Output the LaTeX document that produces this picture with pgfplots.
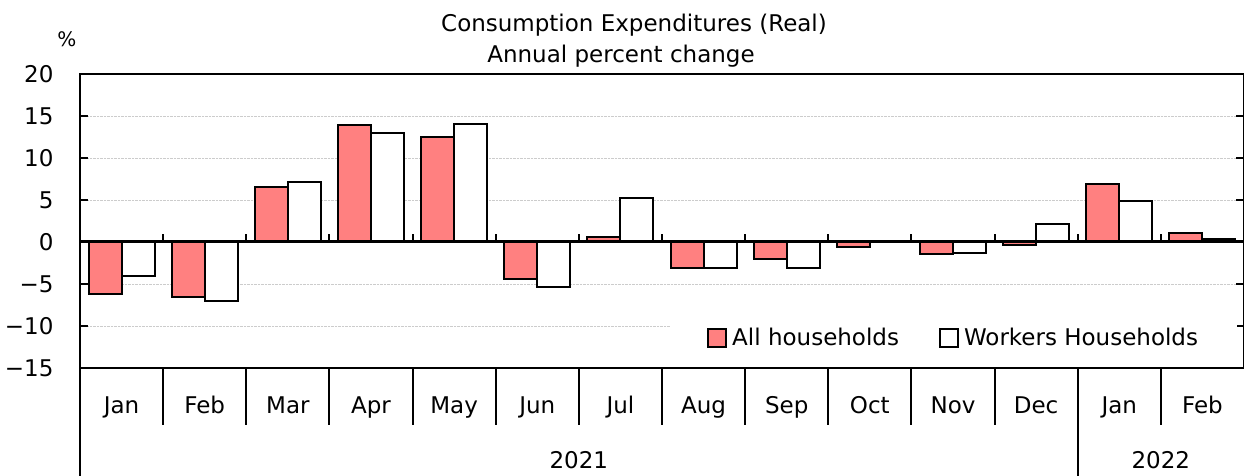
\documentclass[border=0pt]{standalone}
\usepackage{fontspec}
\setmainfont{DejaVu Sans}
\usepackage{pgfplots}
\pgfplotsset{compat=1.18}
\definecolor{barred}{RGB}{255,128,128}
\newcommand{\f}{\fontsize{23}{27}\selectfont}
\begin{document}
\begin{tikzpicture}
\useasboundingbox (0,0) rectangle (1244pt,476pt);
\begin{axis}[
  at={(80pt,108pt)}, anchor=south west,
  scale only axis, width=1164pt, height=294pt,
  xmin=-0.5, xmax=13.5, ymin=-15, ymax=20,
  ytick={-15,-10,...,20},
  yticklabels={−15,−10,−5,0,5,10,15,20},
  xtick={0,...,13},
  xticklabels={Jan,Feb,Mar,Apr,May,Jun,Jul,Aug,Sep,Oct,Nov,Dec,Jan,Feb},
  tick align=inside,
  major tick length=8pt,
  xtick style={draw=none},
  ytick style={line width=1.5pt, black},
  ymajorgrids, grid style={densely dotted, black!20, line width=0.8pt},
  axis line style={line width=2.5pt},
  ticklabel style={font=\f},
  yticklabel style={anchor=east, xshift=-23pt},
  xticklabel style={anchor=base, yshift=-38pt},
  ybar=0pt, bar width=33pt,
  clip=false,
  legend columns=2,
  legend style={at={(0.5069,0.102)}, anchor=west, draw=none, fill=white,
    inner xsep=37pt, inner ysep=6pt, font=\f,
    /tikz/every even column/.append style={column sep=38pt},
    /tikz/every odd column/.append style={column sep=3pt}},
  every axis plot post/.append style={legend image code/.code={\draw[##1, line width=2pt] (0pt,-9pt) rectangle (18pt,9pt);}},
]
\addplot[fill=barred, draw=black, line width=2pt] coordinates {
(0,-6.2) (1,-6.6) (2,6.5) (3,13.9) (4,12.5) (5,-4.4) (6,0.6) (7,-3.1) (8,-2.0) (9,-0.6) (10,-1.4) (11,-0.3) (12,6.9) (13,1.1)};
\addplot[fill=white, draw=black, line width=2pt] coordinates {
(0,-4.1) (1,-7.0) (2,7.1) (3,13.0) (4,14.1) (5,-5.3) (6,5.2) (7,-3.1) (8,-3.1) (9,0.0) (10,-1.3) (11,2.2) (12,4.9) (13,0.4)};
\legend{All households, Workers Households}
\draw[line width=3pt] (axis cs:-0.5,0) -- (axis cs:13.5,0);
\pgfplotsinvokeforeach{0.5,1.5,...,12.5}{
  \draw[line width=2pt] (axis cs:#1,0) -- ([yshift=8pt]axis cs:#1,0);
  \draw[line width=2pt] (axis cs:#1,-15) -- ([yshift=-57pt]axis cs:#1,-15);
}
\draw[line width=2.5pt] (axis cs:-0.5,-15) -- ([yshift=-108pt]axis cs:-0.5,-15);
\draw[line width=2pt] (axis cs:11.5,-15) -- ([yshift=-108pt]axis cs:11.5,-15);
\node[font=\f, anchor=base, yshift=-100pt] at (axis cs:5.5,-15) {2021};
\node[font=\f, anchor=base, yshift=-100pt] at (axis cs:12.5,-15) {2022};
\end{axis}
\node[font=\f, anchor=base] at (634pt,444pt) {Consumption Expenditures (Real)};
\node[font=\f, anchor=base] at (621pt,413pt) {Annual percent change};
\node[font=\fontsize{20}{24}\selectfont] at (67pt,437pt) {\%};
\end{tikzpicture}
\end{document}
